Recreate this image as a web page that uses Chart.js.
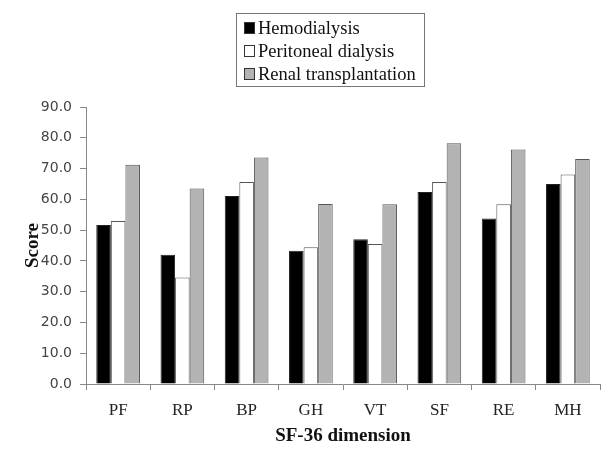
<!DOCTYPE html>
<html lang="en">
  <head>
    <meta charset="UTF-8" />
    <title>SF-36 scores by treatment</title>
    <script src="https://cdn.jsdelivr.net/npm/chart.js"></script>
    <style>
      body { margin: 0; background: #fff; }
    </style>
  </head>
  <body>
    <canvas id="chart" width="602" height="455"></canvas>

    <script>
        const dimensions = ['PF', 'RP', 'BP', 'GH', 'VT', 'SF', 'RE', 'MH'];
        const hemodialysis = [51.7, 42.0, 61.1, 43.3, 47.0, 62.4, 53.8, 65.0];
        const peritoneal = [53.0, 34.6, 65.6, 44.4, 45.5, 65.6, 58.4, 68.1];
        const transplant = [71.2, 63.5, 73.6, 58.5, 58.4, 78.2, 76.2, 73.1];
        const yTicks = [0, 10, 20, 30, 40, 50, 60, 70, 80, 90];

        const serif = "'Liberation Serif', 'Times New Roman', serif";

        // legend drawn as a boxed column above the plot
        const boxLegend = {
            id: 'boxLegend',
            afterDraw(chart) {
                const ctx = chart.ctx;
                const left = 236, top = 13, w = 188, h = 73;
                ctx.save();
                ctx.strokeStyle = '#777';
                ctx.lineWidth = 1;
                ctx.strokeRect(left + 0.5, top + 0.5, w, h);
                ctx.font = '18.5px ' + serif;
                ctx.textBaseline = 'middle';
                chart.data.datasets.forEach((ds, i) => {
                    const y = top + 15 + i * 23;
                    ctx.fillStyle = ds.backgroundColor;
                    ctx.fillRect(left + 8.5, y - 5.5, 10, 11);
                    ctx.strokeStyle = '#333';
                    ctx.strokeRect(left + 8.5, y - 5.5, 10, 11);
                    ctx.fillStyle = '#111';
                    ctx.fillText(ds.label, left + 22, y + 1);
                });
                ctx.restore();
            }
        };

        new Chart(document.getElementById('chart'), {
            type: 'bar',
            data: {
                labels: dimensions,
                datasets: [
                    { label: 'Hemodialysis', data: hemodialysis, backgroundColor: '#000000', borderColor: '#222', borderWidth: 1 },
                    { label: 'Peritoneal dialysis', data: peritoneal, backgroundColor: '#ffffff', borderColor: '#555', borderWidth: 1 },
                    { label: 'Renal transplantation', data: transplant, backgroundColor: '#b3b3b3', borderColor: '#555', borderWidth: 1 }
                ]
            },
            options: {
                responsive: false,
                devicePixelRatio: 1,
                animation: false,
                layout: { padding: { top: 107, right: 2, left: 22, bottom: 8 } },
                datasets: { bar: { categoryPercentage: 0.68, barPercentage: 1.0 } },
                plugins: {
                    legend: { display: false },
                    tooltip: { enabled: false }
                },
                scales: {
                    x: {
                        afterFit: axis => { axis.height = 63; },
                        grid: { display: true, drawOnChartArea: false, offset: true, color: '#888', tickLength: 6 },
                        border: { display: true, color: '#888' },
                        ticks: { color: '#222', font: { family: serif, size: 17 }, padding: 10 },
                        title: { display: true, text: 'SF-36 dimension', color: '#111', font: { family: serif, size: 19, weight: 'bold' }, padding: { top: 0, bottom: 0 } }
                    },
                    y: {
                        min: 0,
                        max: 90,
                        afterFit: axis => { axis.width = 64; },
                        afterBuildTicks: axis => { axis.ticks = yTicks.map(v => ({ value: v })); },
                        grid: { display: true, drawOnChartArea: false, color: '#888', tickLength: 6 },
                        border: { display: true, color: '#888' },
                        ticks: { color: '#444', font: { family: "'DejaVu Sans', sans-serif", size: 14 }, padding: 8, callback: v => v.toFixed(1) },
                        title: { display: true, text: 'Score', color: '#111', font: { family: serif, size: 19, weight: 'bold' }, padding: { top: 0, bottom: 0 } }
                    }
                }
            },
            plugins: [boxLegend]
        });
    </script>
  </body>
</html>
